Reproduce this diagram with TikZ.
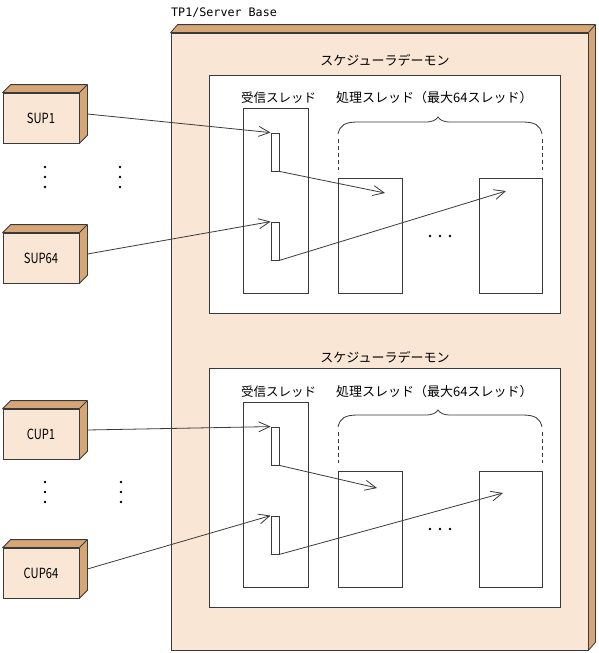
\documentclass[tikz,border=0pt]{standalone}
\usepackage{fontspec}
\setmainfont{Noto Sans CJK JP}
\newfontfamily\condfont[FakeStretch=0.8]{Noto Sans CJK JP}
\newfontfamily\monofont{DejaVu Sans Mono}
\usetikzlibrary{arrows.meta}
\definecolor{boxfill}{HTML}{F9E6D5}
\definecolor{boxside}{HTML}{D6A676}
\definecolor{linec}{HTML}{3A3A3A}
\newcommand\boxsides[3]{%
  \filldraw[sideface] (#1.north west) -- ++(#2,-#3) -- ([shift={(#2,-#3)}]#1.north east)
    -- ([shift={(#2,-#3)}]#1.south east) -- (#1.south east) -- (#1.north east) -- cycle;
  \draw[sideface] (#1.north east) -- ++(#2,-#3);}
\begin{document}
\begin{tikzpicture}[x=1pt,y=-1pt,
  front/.style={draw=linec, fill=boxfill, line width=0.8pt, inner sep=0pt},
  sideface/.style={draw=linec, fill=boxside, line width=0.8pt, line join=round},
  client/.style={front, minimum width=76pt, minimum height=50pt, font=\condfont\fontsize{14}{14}\selectfont},
  plain/.style={draw=linec, fill=white, line width=0.8pt, inner sep=0pt},
  thr/.style={plain, minimum width=64pt, minimum height=115pt},
  rcv/.style={plain, minimum width=65pt, minimum height=185pt},
  slot/.style={plain, minimum width=8pt, minimum height=38pt},
  jp/.style={inner sep=0pt, font=\fontsize{12.5}{13}\selectfont},
  conn/.style={draw=linec, line width=0.8pt, -{Straight Barb[length=11pt,width=10pt]}},
  dot/.style={fill=black, draw=none}
]
\useasboundingbox (0,0) rectangle (599,653);

% outer server box
\node[front, minimum width=417pt, minimum height=617pt] (srv) at (379.5,341.5) {};
\boxsides{srv}{7}{8}
\node[inner sep=0pt, anchor=west, font=\monofont\fontsize{11.7}{12}\selectfont] (srvlbl) at (171,13) {TP1/Server Base};

% client boxes
\node[client] (s1) at (41,118) {SUP1};
\boxsides{s1}{8}{8}
\node[client] (s64) at (41,258) {SUP64};
\boxsides{s64}{8}{8}
\node[client] (c1) at (41,434) {CUP1};
\boxsides{c1}{8}{8}
\node[client] (c64) at (41,573) {CUP64};
\boxsides{c64}{8}{8}

% vertical dots
\foreach \x in {45,120} \foreach \y in {167,177,187} \fill[dot] (\x,\y) circle (1.3pt);
\foreach \x in {45,121} \foreach \y in {482,492,502} \fill[dot] (\x,\y) circle (1.3pt);

% ---------- daemon 1 ----------
\node[jp, font=\fontsize{13}{13}\selectfont] (t1) at (385,60) {スケジューラデーモン};
\node[plain, minimum width=351pt, minimum height=238pt] (d1) at (384.5,194) {};
\node[jp, anchor=west] (rl1) at (241,98) {受信スレッド};
\node[jp, anchor=west, font=\fontsize{13}{13}\selectfont] (pl1) at (336,98) {処理スレッド（最大64スレッド）};
\node[rcv] (rx1) at (275.5,200.5) {};
\node[slot] (a1) at (275,152) {};
\node[slot] (b1) at (275,241) {};
\node[thr] (pa1) at (370,235.5) {};
\node[thr, minimum width=63pt] (pb1) at (510.5,235.5) {};
\draw[linec, line width=0.8pt] (338,134) .. controls (340,125) and (345,122) .. (358,122) -- (425,122)
  .. controls (433,122) and (436,120) .. (438,117) .. controls (440,120) and (443,122) .. (451,122)
  -- (522,122) .. controls (535,122) and (540,125) .. (542,134);
\draw[linec, line width=0.8pt, dash pattern=on 4pt off 3pt] (338,139) -- (338,170);
\draw[linec, line width=0.8pt, dash pattern=on 4pt off 3pt] (542,139) -- (542,170);
\foreach \x in {430,440,450} \fill[dot] (\x,236) circle (1.3pt);
\coordinate (s1o) at ([shift={(8,-4)}]s1.east);
\coordinate (s64o) at ([shift={(8,-4)}]s64.east);
\coordinate (pa1t) at (385,193);
\coordinate (pb1t) at (506,191);
\draw[conn] (s1o) -- (a1.north west);
\draw[conn] (a1.south east) -- (pa1t);
\draw[conn] (s64o) -- (b1.north west);
\draw[conn] (b1.south east) -- (pb1t);

% ---------- daemon 2 ----------
\node[jp, font=\fontsize{13}{13}\selectfont] (t2) at (385,357) {スケジューラデーモン};
\node[plain, minimum width=351pt, minimum height=239pt] (d2) at (384.5,487.5) {};
\node[jp, anchor=west] (rl2) at (241,392) {受信スレッド};
\node[jp, anchor=west, font=\fontsize{13}{13}\selectfont] (pl2) at (336,392) {処理スレッド（最大64スレッド）};
\node[rcv] (rx2) at (275.5,494.5) {};
\node[slot] (a2) at (275,446) {};
\node[slot] (b2) at (275,535) {};
\node[thr, minimum height=116pt] (pa2) at (370,529) {};
\node[thr, minimum width=63pt, minimum height=116pt] (pb2) at (510.5,529) {};
\draw[linec, line width=0.8pt] (338,427) .. controls (340,418) and (345,415) .. (358,415) -- (425,415)
  .. controls (433,415) and (436,413) .. (438,410) .. controls (440,413) and (443,415) .. (451,415)
  -- (522,415) .. controls (535,415) and (540,418) .. (542,427);
\draw[linec, line width=0.8pt, dash pattern=on 4pt off 3pt] (338,432) -- (338,463);
\draw[linec, line width=0.8pt, dash pattern=on 4pt off 3pt] (542,432) -- (542,463);
\foreach \x in {430,440,450} \fill[dot] (\x,529) circle (1.3pt);
\coordinate (c1o) at ([shift={(8,-4)}]c1.east);
\coordinate (c64o) at ([shift={(8,-4)}]c64.east);
\coordinate (pa2t) at (377,488);
\coordinate (pb2t) at (503,493);
\draw[conn] (c1o) -- (a2.north west);
\draw[conn] (a2.south east) -- (pa2t);
\draw[conn] (c64o) -- (b2.north west);
\draw[conn] (b2.south east) -- (pb2t);
\end{tikzpicture}
\end{document}
